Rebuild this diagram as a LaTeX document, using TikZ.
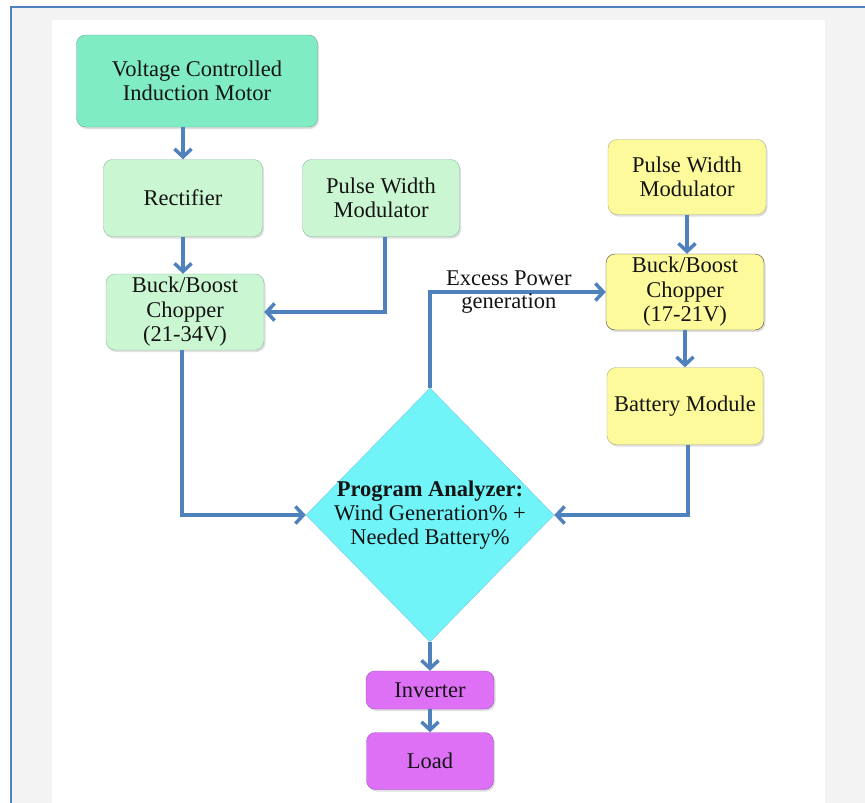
\documentclass[tikz,border=0pt]{standalone}
\usepackage{fontspec}
\setmainfont{Liberation Serif}
\usepackage{xcolor}
\usetikzlibrary{arrows.meta,shapes.geometric,shadows}

\definecolor{mintfill}{RGB}{128,236,196}
\definecolor{mintline}{RGB}{105,170,148}
\definecolor{greenfill}{RGB}{202,246,210}
\definecolor{greenline}{RGB}{140,186,160}
\definecolor{yellowfill}{RGB}{253,250,155}
\definecolor{yellowline}{RGB}{175,172,120}
\definecolor{cyanfill}{RGB}{112,244,248}
\definecolor{cyanline}{RGB}{120,200,232}
\definecolor{purplefill}{RGB}{221,112,245}
\definecolor{purpleline}{RGB}{160,85,190}
\definecolor{flowblue}{RGB}{79,129,189}
\definecolor{bggray}{RGB}{243,243,243}

\tikzset{
  box/.style={draw, rounded corners=9pt, align=center, inner sep=2pt,
    font=\fontsize{22.5}{24.5}\selectfont, text=black!92,
    drop shadow={shadow xshift=1.5pt, shadow yshift=-2pt, opacity=0.25}},
  mintbox/.style={box, fill=mintfill, draw=mintline},
  greenbox/.style={box, fill=greenfill, draw=greenline},
  yellowbox/.style={box, fill=yellowfill, draw=yellowline},
  purplebox/.style={box, fill=purplefill, draw=purpleline},
  flow/.style={draw=flowblue, line width=3.5pt,
    -{Straight Barb[length=8pt,width=17pt]}}
}

\begin{document}
\begin{tikzpicture}[x=1pt,y=-1pt]
  \useasboundingbox (0,0) rectangle (865,803);
  % page frame
  \fill[bggray] (11,7) rectangle (865,803);
  \fill[white] (52,20) rectangle (825,803);
  \draw[flowblue, line width=2pt] (11,803) -- (11,7) -- (865,7);

  % left branch
  \node[mintbox, minimum width=241pt, minimum height=92pt] (motor) at (197,81)
    {Voltage Controlled\\Induction Motor};
  \node[greenbox, minimum width=159pt, minimum height=77pt] (rect) at (183,198)
    {Rectifier};
  \node[greenbox, minimum width=157pt, minimum height=77pt] (pwmL) at (381,198)
    {Pulse Width\\Modulator};
  \node[greenbox, minimum width=158pt, minimum height=76pt] (buckL) at (185,312)
    {Buck/Boost\\Chopper\\(21-34V)};

  % right branch
  \node[yellowbox, minimum width=158pt, minimum height=75pt] (pwmR) at (687,177)
    {Pulse Width\\Modulator};
  \node[yellowbox, draw=black!70!yellow!60!black, minimum width=158pt, minimum height=76pt]
    (buckR) at (685,292) {Buck/Boost\\Chopper\\(17-21V)};
  \node[yellowbox, minimum width=156pt, minimum height=77pt] (batt) at (685,406)
    {Battery Module};

  % analyzer
  \node[diamond, draw=cyanline, fill=cyanfill, inner sep=0pt,
    minimum width=248pt, minimum height=254pt] (an) at (430,515) {};
  \node[align=center, font=\fontsize{22.5}{24}\selectfont, text=black!92] (antext) at (an)
    {\textbf{Program Analyzer:}\\Wind Generation\% +\\Needed Battery\%};

  % output
  \node[purplebox, minimum width=128pt, minimum height=38pt] (inv) at (430,690)
    {Inverter};
  \node[purplebox, minimum width=127pt, minimum height=57pt] (load) at (430,761)
    {Load};

  % connectors
  \draw[flow] (rect.north |- motor.south) -- (rect.north);
  \draw[flow] (rect.south) -- (rect.south |- buckL.north);
  \draw[flow] ([xshift=4pt]pwmL.south) |- (buckL.east);
  \draw[flow] ([xshift=-3pt]buckL.south) |- (an.west);
  \draw[flow] (an.north) |- node[pos=0.75, align=center,
      font=\fontsize{22.5}{23}\selectfont, text=black!92, xshift=-9pt] (excess)
      {Excess Power\\generation} (buckR.west);
  \draw[flow] (pwmR.south) -- (pwmR.south |- buckR.north);
  \draw[flow] (buckR.south) -- (buckR.south |- batt.north);
  \draw[flow] ([xshift=3pt]batt.south) |- (an.east);
  \draw[flow] (an.south) -- (inv.north);
  \draw[flow] (inv.south) -- (load.north);
\end{tikzpicture}
\end{document}
